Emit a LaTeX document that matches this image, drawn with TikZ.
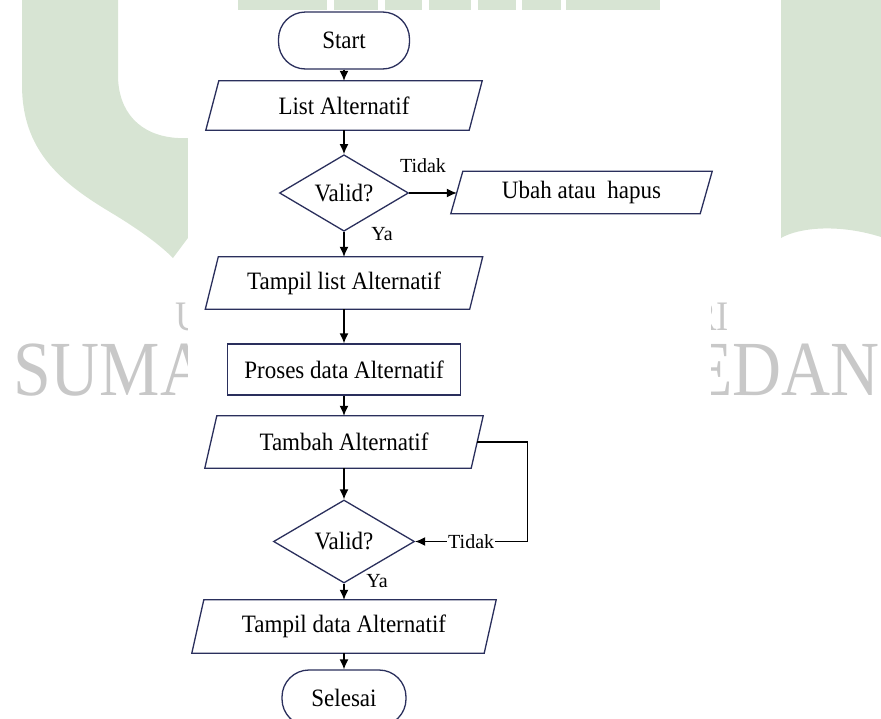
\documentclass[tikz,border=0pt]{standalone}
\usepackage{fontspec}
\setmainfont{Liberation Serif}
\newfontfamily\chartfont{Liberation Serif}[FakeStretch=0.92]
\newfontfamily\wmfont{Liberation Serif}[FakeStretch=0.87]
\usetikzlibrary{shapes.geometric,arrows.meta}

\definecolor{edge}{RGB}{42,47,92}
\definecolor{logogreen}{RGB}{215,228,211}
\definecolor{logogray}{RGB}{200,200,200}

\newcommand\mainsz{\chartfont\fontsize{25}{29}\selectfont}
\newcommand\lblsz{\fontsize{20}{22}\selectfont}
% slanted input/output box drawn round a named node
\newcommand\ioframe[2][6]{\draw[outline] ([xshift=#1pt]#2.north west) -- ([xshift=#1pt]#2.north east) -- ([xshift=-#1pt]#2.south east) -- ([xshift=-#1pt]#2.south west) -- cycle;}

\tikzset{
  outline/.style={draw=edge, line width=1.3pt, line join=miter},
  box/.style={font=\mainsz, inner sep=0pt, text=black},
  term/.style={box, outline, rounded corners=27pt, minimum width=131pt, minimum height=57pt},
  proc/.style={box, outline},
  decis/.style={box, outline, diamond},
  iobox/.style={box},
  flow/.style={-{Latex[length=10pt,width=9pt]}, line width=1.3pt, black},
  lbl/.style={font=\lblsz, inner sep=1pt, text=black},
  wm/.style={text=logogray, inner sep=0pt, text depth=0pt},
  wmsmall/.style={wm, font=\wmfont\fontsize{42}{42}\selectfont, text height=28pt},
  wmlarge/.style={wm, font=\wmfont\fontsize{78}{78}\selectfont, text height=52pt}
}

\begin{document}
\begin{tikzpicture}[x=1pt,y=-1pt]
\useasboundingbox (0,0) rectangle (881,718);
\clip (0,0) rectangle (881,718);

% ---- background emblem ----
\fill[logogreen] (22,0) -- (22,85) .. controls (22,150) and (60,182) .. (110,212)
  .. controls (140,230) and (160,245) .. (173,258) -- (205,215) -- (205,138) -- (178,138)
  .. controls (140,136) and (118,112) .. (118,75) -- (118,0) -- cycle;
\fill[logogreen] (781,0) -- (781,238) .. controls (800,227) and (840,224) .. (881,237) -- (881,0) -- cycle;
\foreach \a/\b in {238/327,334/378,385/422,429/471,478/516,522/561,566/660}
  \fill[logogreen] (\a,0) rectangle (\b,9.5);

% emblem lettering, left and right of the sheet
\begin{scope}
  \clip (0,0) rectangle (188,718);
  \node[wmsmall, anchor=base west] (wmu) at (175,330) {U};
  \node[wmlarge, anchor=base west] (wmsuma) at (13,395) {SUMA};
\end{scope}
\begin{scope}
  \clip (711,0) rectangle (881,718);
  \node[wmsmall, anchor=base east] (wmri) at (729,330) {RI};
  \node[wmlarge, anchor=base east] (wmedan) at (880,395) {EDAN};
\end{scope}

% white sheet carrying the flowchart
\fill[white] (188,9.5) rectangle (711,718);

% ---- flowchart ----
\node[term] (start) at (344,40.5) {Start};
\node[iobox, minimum width=263pt, minimum height=49pt] (list) at (344,105.5) {List Alternatif};
\node[decis, minimum width=129pt, minimum height=70pt] (v1) at (344,193) {Valid?};
\node[iobox, minimum width=249pt, minimum height=42pt] (ubah) at (581.5,192.5) {Ubah atau\ \ hapus};
\node[iobox, minimum width=264pt, minimum height=52pt] (tlist) at (344,283) {Tampil list Alternatif};
\node[proc, minimum width=233pt, minimum height=51pt] (proses) at (344,369.5) {Proses data Alternatif};
\node[iobox, minimum width=266pt, minimum height=52pt] (tambah) at (344,442) {Tambah Alternatif};
\node[decis, minimum width=141pt, minimum height=83pt] (v2) at (344,541.5) {Valid?};
\node[iobox, minimum width=292pt, minimum height=53pt] (tdata) at (344,626.5) {Tampil data Alternatif};
\node[term, minimum width=124pt, minimum height=56pt] (finish) at (344,698) {Selesai};

\ioframe[6.5]{list}
\ioframe[6]{ubah}
\ioframe[6.5]{tlist}
\ioframe[6]{tambah}
\ioframe[6]{tdata}

% connectors
\draw[flow] (start) -- (list);
\draw[flow] (list) -- (v1);
\draw[flow] (v1.east) -- (v1.east -| ubah.west);
\draw[flow] (v1) -- (tlist);
\draw[flow] (tlist) -- (proses);
\draw[flow] (proses) -- (tambah);
\draw[flow] (tambah) -- (v2);
\draw[flow] (v2) -- (tdata);
\draw[flow] (tdata) -- (finish);
\draw[flow] (tambah.east) -- ++(50,0) |- node[lbl, fill=white, pos=0.75] (tidak2) {Tidak} (v2.east);

% branch labels
\node[lbl] (tidak1) at (423,166) {Tidak};
\node[lbl] (ya1) at (382,234) {Ya};
\node[lbl] (ya2) at (377,581) {Ya};
\end{tikzpicture}
\end{document}
